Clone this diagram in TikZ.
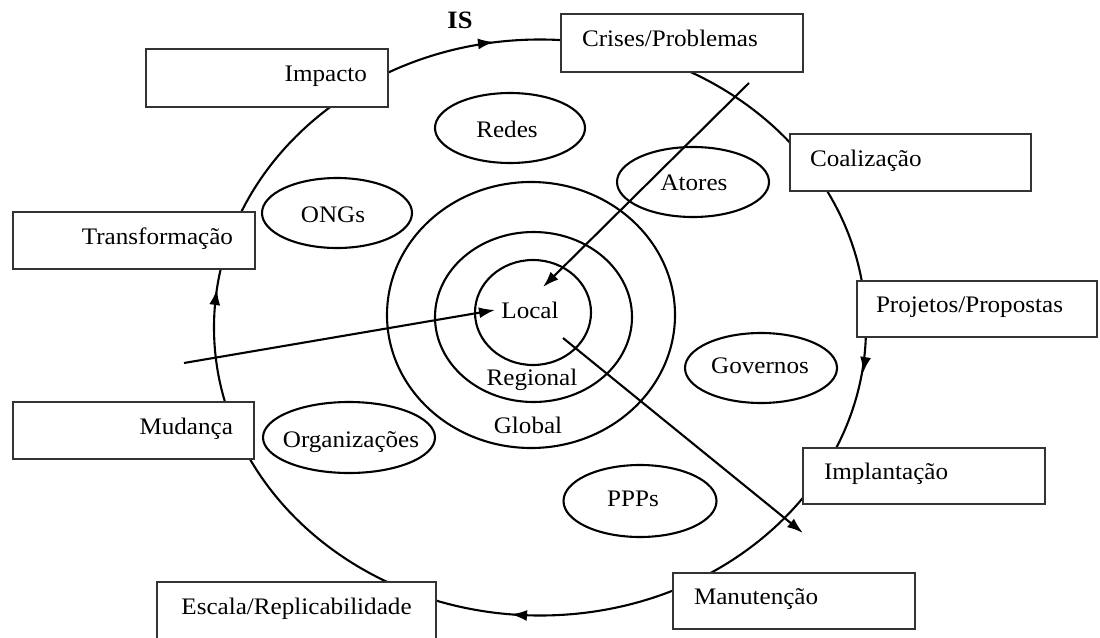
\documentclass[tikz,border=0pt]{standalone}
\usepackage{fontspec}
\setmainfont{Liberation Serif}[FakeStretch=1.06]
\usetikzlibrary{arrows.meta,shapes.geometric}
\begin{document}
\begin{tikzpicture}[x=1pt,y=-1pt,
  every node/.style={font=\fontsize{23.7}{28}\selectfont},
  ln/.style={line width=2.1pt},
  arr/.style={line width=2.1pt,-{Latex[length=16pt,width=11pt]}},
  box/.style={draw=black!80,line width=1.9pt,fill=white,rectangle,inner ysep=0pt,
    text height=15.7pt,text depth=8pt},
  lbox/.style={box,align=left},
  rbox/.style={box,align=right},
  cbox/.style={box,align=center},
  oval/.style={draw,ellipse,line width=2.1pt,inner sep=0pt},
  txt/.style={inner sep=0pt,anchor=base}]
\useasboundingbox (0,0) rectangle (1100,637);
\clip (0,0) rectangle (1100,637);

% main cycle
\draw[ln] (540,327.5) ellipse (326pt and 288pt);
\coordinate (t1s) at (479.1,43.8);  \coordinate (t1e) at (494,42);
\coordinate (t2s) at (865.4,358.2); \coordinate (t2e) at (863,373);
\coordinate (t3s) at (527,615.5);   \coordinate (t3e) at (511,614.4);
\coordinate (t4s) at (214.9,303.8); \coordinate (t4e) at (217,289);
\draw[arr] (t1s) -- (t1e);
\draw[arr] (t2s) -- (t2e);
\draw[arr] (t3s) -- (t3e);
\draw[arr] (t4s) -- (t4e);

\node[txt,font=\fontsize{25}{30}\selectfont\bfseries] (is) at (460,28) {IS};

% boxes
\node[rbox,text width=200pt,inner xsep=21pt,minimum height=58pt] (impacto) at (267,78) {Impacto};
\node[lbox,text width=200pt,inner xsep=21pt,minimum height=58pt] (crises) at (682,43) {Crises/Problemas};
\node[lbox,text width=201pt,inner xsep=20pt,minimum height=57pt] (coal) at (910.5,162.5) {Coalização};
\node[lbox,text width=202pt,inner xsep=19pt,minimum height=56pt] (proj) at (977,309) {Projetos/Propostas};
\node[lbox,text width=200pt,inner xsep=21pt,minimum height=56pt] (impl) at (924,476) {Implantação};
\node[lbox,text width=200pt,inner xsep=21pt,minimum height=56pt] (manut) at (794,601) {Manutenção};
\node[cbox,text width=239pt,inner xsep=20pt,minimum height=57pt] (escala) at (296.5,610.5) {Escala/Replicabilidade};
\node[rbox,text width=199pt,inner xsep=21pt,minimum height=57pt] (mudanca) at (133.5,430.5) {Mudança};
\node[rbox,text width=198pt,inner xsep=22pt,minimum height=57pt] (transf) at (134,240.5) {Transformação};

% concentric circles
\draw[ln] (531,315) ellipse (144pt and 133pt);
\draw[ln] (533.5,317) ellipse (98.5pt and 85pt);
\draw[ln] (533,312.5) ellipse (58pt and 52.5pt);
\node[txt] (local) at (530,318) {Local};
\node[txt] (regional) at (532,385) {Regional};
\node[txt] (global) at (528,433) {Global};

% actors
\node[oval,minimum width=150pt,minimum height=70pt] (redes) at (510,128) {};
\node[txt] (redest) at (507,137) {Redes};
\node[oval,minimum width=150pt,minimum height=70pt] (ongs) at (337,213) {};
\node[txt] (ongst) at (333,222) {ONGs};
\node[oval,minimum width=152pt,minimum height=70pt] (atores) at (693,182) {};
\node[txt] (atorest) at (694,190) {Atores};
\node[oval,minimum width=152pt,minimum height=70pt] (gov) at (761,368) {};
\node[txt] (govt) at (760,373) {Governos};
\node[oval,minimum width=153pt,minimum height=72pt] (ppps) at (640,501) {};
\node[txt] (pppst) at (633,506) {PPPs};
\node[oval,minimum width=172pt,minimum height=71pt] (org) at (349,437.5) {};
\node[txt] (orgt) at (351,447) {Organizações};

% arrows through the centre
\coordinate (a1s) at (749,83);  \coordinate (a1e) at (543,287);
\coordinate (a2s) at (184,363); \coordinate (a2e) at (495,310);
\coordinate (a3s) at (563,338); \coordinate (a3e) at (803,533);
\draw[arr] (a1s) -- (a1e);
\draw[arr] (a2s) -- (a2e);
\draw[arr] (a3s) -- (a3e);
\end{tikzpicture}
\end{document}
